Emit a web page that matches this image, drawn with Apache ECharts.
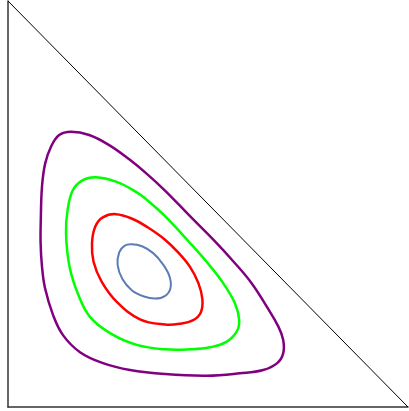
<!DOCTYPE html>
<html>
<head>
<meta charset="utf-8">
<script src="https://cdn.jsdelivr.net/npm/echarts@6/dist/echarts.min.js"></script>
<style>
  html, body { margin: 0; padding: 0; background: #fff; }
  #chart { width: 409px; height: 411px; }
</style>
</head>
<body>
<div id="chart"></div>
<script>
// contour rings, [x, y] on a 0..100 simplex
const purpleRing = [
  [15.75, 67.8], [20.3, 67.0], [25.3, 64.5], [30.3, 61.0], [34.5, 57.6], [39.25, 53.3],
  [45.5, 47.0], [51.75, 40.8], [56.3, 35.9], [60.9, 30.5], [64.7, 24.7], [67.6, 19.8],
  [68.8, 16.5], [68.8, 13.2], [67.3, 10.8], [63.8, 9.1], [58.0, 8.3], [49.7, 7.7],
  [39.25, 8.1], [30.5, 9.1], [23.75, 10.8], [18.0, 13.5], [13.75, 17.7], [11.25, 22.7],
  [9.25, 29.3], [8.5, 34.6], [8.15, 40.4], [8.2, 46.1], [8.5, 54.3], [9.3, 60.0],
  [10.75, 64.1], [12.8, 67.0]
]
const greenRing = [
  [22.0, 56.6], [27.0, 55.5], [32.0, 53.0], [34.5, 51.2], [39.25, 47.0], [45.5, 40.4],
  [49.7, 35.7], [53.8, 30.5], [56.75, 25.5], [57.8, 21.4], [57.2, 18.6], [54.7, 16.1],
  [50.5, 14.7], [45.5, 14.2], [39.25, 14.2], [32.2, 15.3], [25.5, 18.2], [20.5, 22.2],
  [17.6, 27.6], [15.4, 34.5], [14.5, 42.8], [14.9, 48.5], [16.2, 53.4], [18.7, 55.9]
]
const redRing = [
  [27.0, 47.5], [31.2, 46.3], [35.0, 44.2], [39.25, 41.2], [42.6, 38.0], [45.5, 34.5],
  [47.6, 30.5], [48.6, 26.5], [48.2, 23.3], [46.3, 21.4], [43.0, 20.5], [39.25, 20.3],
  [33.0, 21.6], [27.2, 25.9], [23.4, 30.9], [21.4, 35.7], [21.0, 40.3], [21.8, 44.4],
  [23.7, 46.7]
]
const blueRing = [
  [30.8, 40.1], [33.5, 39.6], [36.3, 37.9], [38.7, 35.2], [40.4, 32.1], [40.6, 29.2],
  [39.2, 27.3], [36.8, 26.7], [34.0, 27.2], [31.0, 28.7], [28.6, 31.5], [27.4, 35.0],
  [27.8, 38.1], [29.1, 39.7]
]
const edge = [[0, 100], [100, 0]]

const chart = echarts.init(document.getElementById('chart'))

// closed smooth ring through the axis scales
const ring = (data, color, width) => ({
  type: 'custom',
  coordinateSystem: 'cartesian2d',
  data: data,
  encode: { x: 0, y: 1 },
  silent: true,
  renderItem: (params, api) => {
    if (params.dataIndex !== 0) return null
    const points = data.map(p => api.coord(p))
    return {
      type: 'polygon',
      shape: { points: points, smooth: 0.4 },
      style: { fill: 'none', stroke: color, lineWidth: width }
    }
  }
})

const hiddenAxis = {
  type: 'value',
  min: 0,
  max: 100,
  axisLine: { show: true, lineStyle: { color: '#333', width: 1.5 } },
  axisTick: { show: false },
  axisLabel: { show: false },
  splitLine: { show: false }
}

chart.setOption({
  animation: false,
  grid: { left: 8, right: 1, top: 1, bottom: 4 },
  xAxis: hiddenAxis,
  yAxis: hiddenAxis,
  series: [
    {
      type: 'line',
      data: edge,
      symbol: 'none',
      lineStyle: { color: '#000', width: 1 },
      silent: true
    },
    ring(purpleRing, '#800080', 2.5),
    ring(greenRing, '#00ff00', 2.5),
    ring(redRing, '#ff0000', 2.5),
    ring(blueRing, '#5b7db3', 2)
  ]
})
</script>
</body>
</html>
